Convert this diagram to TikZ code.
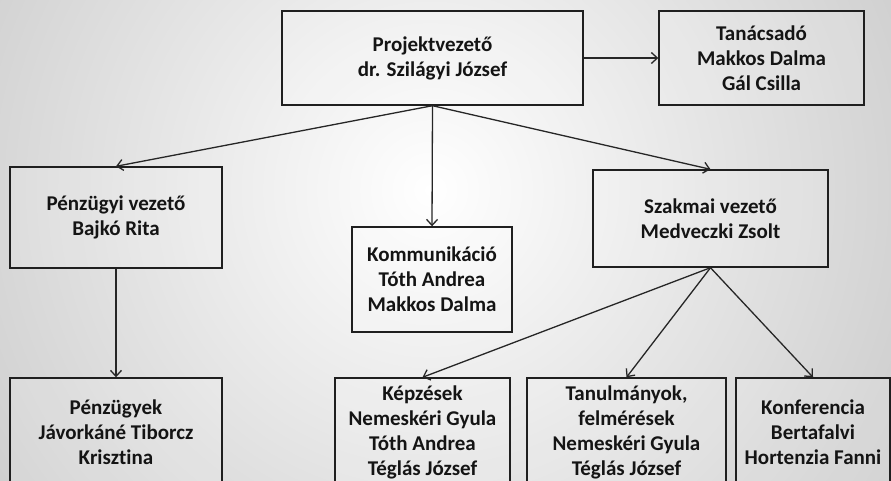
\documentclass[tikz,border=0pt]{standalone}
\usepackage{fontspec}
\setmainfont[Ligatures=NoCommon]{Carlito}
\usetikzlibrary{arrows.meta}
\begin{document}
\begin{tikzpicture}[x=1pt,y=-1pt,
  box/.style={draw=black!88, line width=1.4pt, fill=white, fill opacity=0.15, text opacity=1,
    align=center, font=\fontsize{21}{25}\selectfont\bfseries, text=black!92, inner sep=0pt},
  conn/.style={draw=black!85, line width=1.3pt, -{Straight Barb[length=6pt,width=11pt]}}]
\useasboundingbox (0,0) rectangle (891,480);
\begin{scope}
\clip (0,0) rectangle (891,480);
\shade[inner color=white, outer color=black!40] (430,190) circle (1100pt);
\node[box, minimum width=301pt, minimum height=94pt] (proj) at (432.5,58) {Projektvezető\\dr. Szilágyi József};
\node[box, minimum width=205pt, minimum height=94pt] (tan) at (761.5,58) {Tanácsadó\\Makkos Dalma\\Gál Csilla};
\node[box, minimum width=212pt, minimum height=101pt] (penzv) at (116,217.5) {Pénzügyi vezető\\Bajkó Rita};
\node[box, minimum width=160pt, minimum height=105pt] (komm) at (432,279.5) {Kommunikáció\\Tóth Andrea\\Makkos Dalma};
\node[box, minimum width=235pt, minimum height=97pt] (szak) at (710.5,218.5) {Szakmai vezető\\Medveczki Zsolt};
\node[box, minimum width=212pt, minimum height=108pt] (penz) at (116,432) {Pénzügyek\\Jávorkáné Tiborcz\\Krisztina};
\node[box, minimum width=175pt, minimum height=108pt] (kepz) at (422.5,432) {Képzések\\Nemeskéri Gyula\\Tóth Andrea\\Téglás József};
\node[box, minimum width=199pt, minimum height=108pt] (tanul) at (626.5,432) {Tanulmányok,\\felmérések\\Nemeskéri Gyula\\Téglás József};
\node[box, minimum width=154pt, minimum height=108pt] (konf) at (813,432) {Konferencia\\Bertafalvi\\Hortenzia Fanni};
\draw[conn] (proj.east) -- (tan.west);
\draw[conn] (proj.south) -- (penzv.north);
\draw[conn] (proj.south) -- (komm.north);
\draw[conn] (proj.south) -- (szak.north);
\draw[conn] (penzv.south) -- (penz.north);
\draw[conn] (szak.south) -- (kepz.north);
\draw[conn] (szak.south) -- (tanul.north);
\draw[conn] (szak.south) -- (konf.north);
\end{scope}
\end{tikzpicture}
\end{document}
